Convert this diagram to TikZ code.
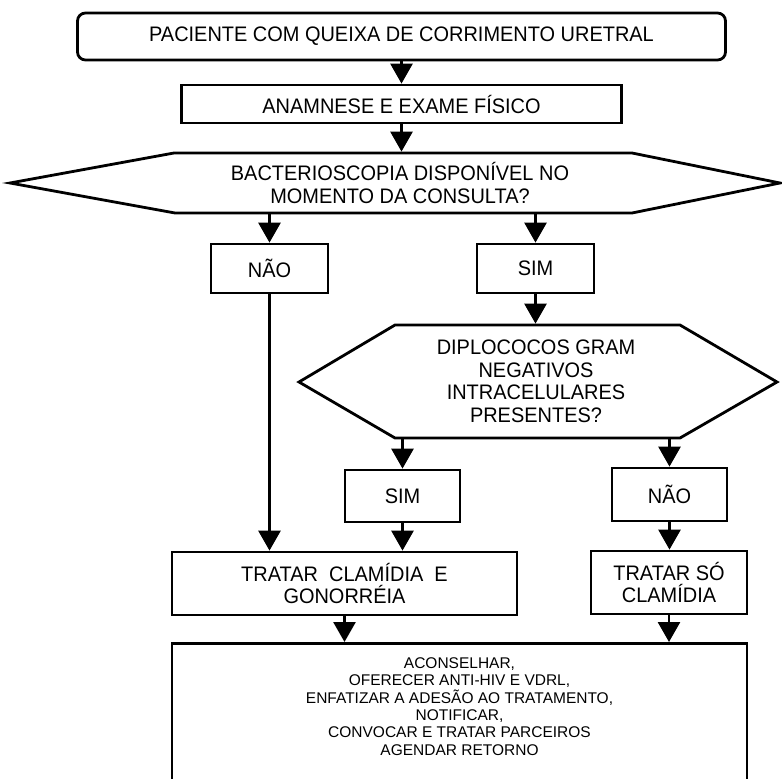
\documentclass[tikz,border=0pt]{standalone}
\usepackage{fontspec}
\setmainfont{Liberation Sans}
\newfontfamily\condfam{Liberation Sans}[FakeStretch=0.95]
\usetikzlibrary{arrows.meta}
\newcommand\fsbigtxt{\condfam\fontsize{21}{22.5}\selectfont}
\newcommand\fssmalltxt{\fontsize{15.5}{17.4}\selectfont}
\begin{document}
\begin{tikzpicture}[x=1pt,y=-1pt,line width=2.8pt,
  every node/.style={inner sep=0pt},
  box/.style={draw, rectangle, align=center, font=\fsbigtxt},
  txt/.style={align=center, font=\fsbigtxt},
  hexa/.style={line join=miter},
  arr/.style={-{Triangle[width=22pt,length=20pt]}}]
\useasboundingbox (0,0) rectangle (782,779);
\clip (0,0) rectangle (782,779);
% boxes
\node[box, rounded corners=8pt, minimum width=648pt, minimum height=47pt] (pac) at (401.5,36.5) {PACIENTE COM QUEIXA DE CORRIMENTO URETRAL};
\node[box, minimum width=440pt, minimum height=38pt] (ana) at (401.5,104) {ANAMNESE E EXAME FÍSICO};
\draw[hexa] (10,183) -- (174,153) -- (632,153) -- (780,183) -- (632,213) -- (175,213) -- cycle;
\node[txt, minimum height=60pt] (bac) at (400,183) {BACTERIOSCOPIA DISPONÍVEL NO\\MOMENTO DA CONSULTA?};
\node[box, minimum width=117pt, minimum height=49pt] (nao1) at (269.5,268.5) {NÃO};
\node[box, minimum width=117pt, minimum height=49pt] (sim1) at (535.5,268.5) {SIM};
\draw[hexa] (299,382) -- (395,325) -- (680,325) -- (777,382) -- (680,438) -- (395,438) -- cycle;
\node[txt, minimum height=113pt] (dip) at (536,381.5) {DIPLOCOCOS GRAM\\NEGATIVOS\\INTRACELULARES\\PRESENTES?};
\node[box, minimum width=115pt, minimum height=52pt] (sim2) at (402.5,496) {SIM};
\node[box, minimum width=115pt, minimum height=53pt] (nao2) at (669.5,494.5) {NÃO};
\node[box, minimum width=345pt, minimum height=63pt] (trgc) at (344.5,583.5) {TRATAR\ \ CLAMÍDIA\ \ E\\GONORRÉIA};
\node[box, minimum width=156pt, minimum height=63pt] (trc) at (669,582.5) {TRATAR SÓ\\CLAMÍDIA};
\node[draw, minimum width=575pt, minimum height=160pt, anchor=north] (fim) at (459.5,642) {};
\node[align=center, font=\fssmalltxt] (fimtxt) at (459.5,706.5) {ACONSELHAR,\\OFERECER ANTI-HIV E VDRL,\\ENFATIZAR A ADESÃO AO TRATAMENTO,\\NOTIFICAR,\\CONVOCAR E TRATAR PARCEIROS\\AGENDAR RETORNO};
% connectors
\draw[arr] (pac.south) -- (ana.north);
\draw[arr] (ana.south) -- (ana.south |- bac.north);
\draw[arr] (bac.south -| nao1.north) -- (nao1.north);
\draw[arr] (bac.south -| sim1.north) -- (sim1.north);
\draw[arr] (sim1.south) -- (sim1.south |- dip.north);
\draw[arr] (dip.south -| sim2.north) -- (sim2.north);
\draw[arr] (dip.south -| nao2.north) -- (nao2.north);
\draw[arr] (nao1.south) -- (nao1.south |- trgc.north);
\draw[arr] (sim2.south) -- (sim2.south |- trgc.north);
\draw[arr] (nao2.south) -- (nao2.south |- trc.north);
\draw[arr] (trgc.south) -- (trgc.south |- fim.north);
\draw[arr] (trc.south) -- (trc.south |- fim.north);
\end{tikzpicture}
\end{document}
